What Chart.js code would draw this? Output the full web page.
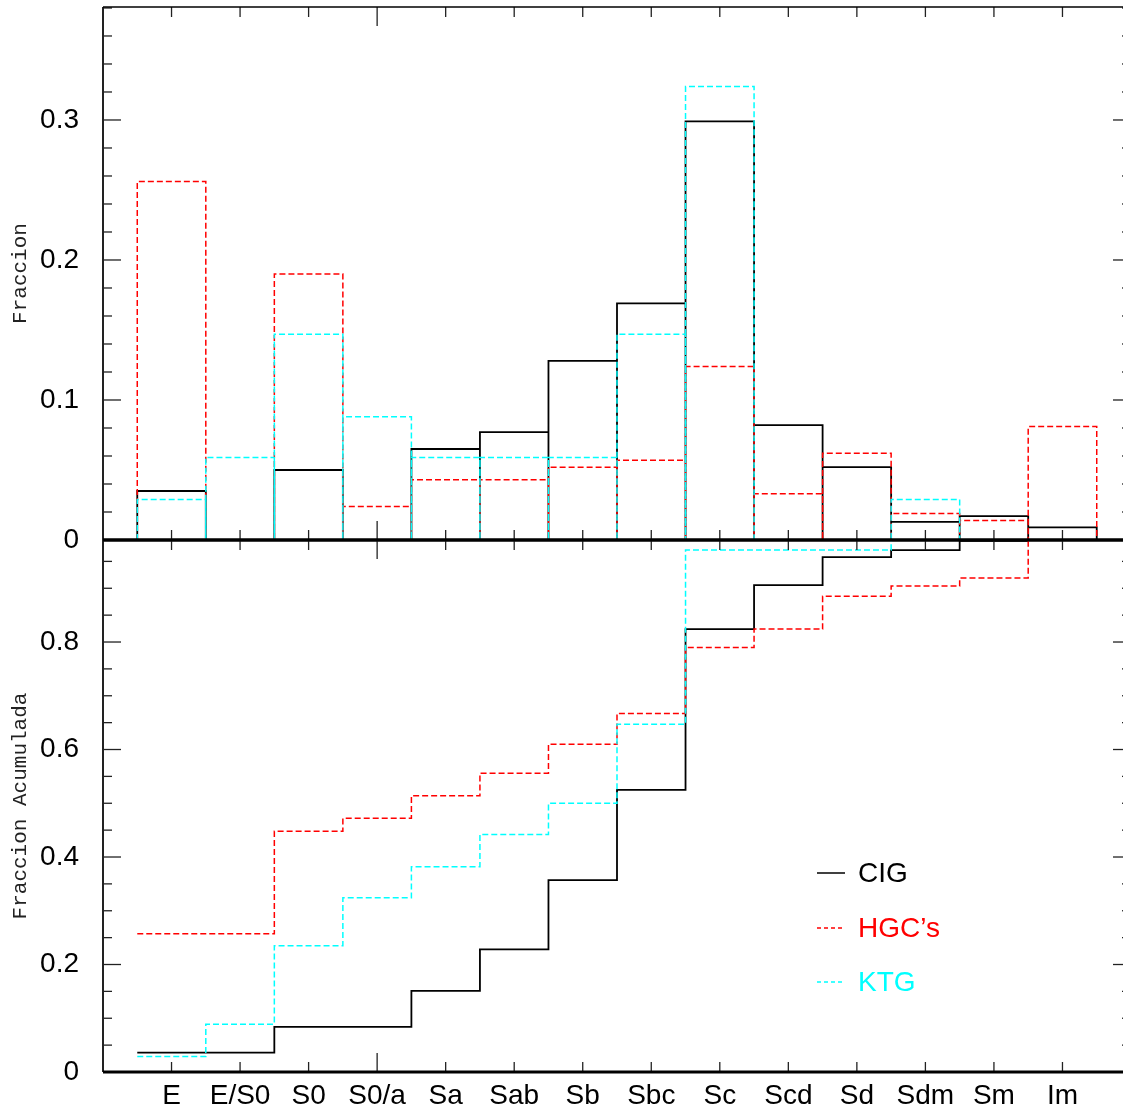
<!DOCTYPE html>
<html>
<head>
  <title>Fraccion por tipo morfologico</title>
  <script src="https://cdn.jsdelivr.net/npm/chart.js"></script>
  <style>
    html, body { margin: 0; padding: 0; background: #fff; overflow: hidden; }
    #wrap { position: relative; width: 1123px; height: 1111px; overflow: hidden; }
    #topChart { position: absolute; left: 0; top: 0; }
    #botChart { position: absolute; left: 0; top: 530px; }
    #legend { position: absolute; left: 817px; top: 846px; font-family: 'Liberation Sans', Arial, sans-serif; font-size: 28px; }
    .item { display: flex; align-items: center; height: 54.5px; }
    .item svg { margin-right: 13px; }
  </style>
</head>
<body>
  <div id="wrap">
    <canvas id="topChart" width="1140" height="560"></canvas>
    <canvas id="botChart" width="1140" height="581"></canvas>
    <div id="legend"></div>
  </div>
  <script>
    const categories = ['E', 'E/S0', 'S0', 'S0/a', 'Sa', 'Sab', 'Sb', 'Sbc', 'Sc', 'Scd', 'Sd', 'Sdm', 'Sm', 'Im'];

    // fraccion por tipo
    const fracCIG = [0.035, 0, 0.050, 0, 0.065, 0.077, 0.128, 0.169, 0.299, 0.082, 0.052, 0.013, 0.017, 0.009];
    const fracHGC = [0.256, 0, 0.190, 0.024, 0.043, 0.043, 0.052, 0.057, 0.124, 0.033, 0.062, 0.019, 0.014, 0.081];
    const fracKTG = [0.029, 0.059, 0.147, 0.088, 0.059, 0.059, 0.059, 0.147, 0.324, 0, 0, 0.029, 0, 0];

    // fraccion acumulada
    const cumCIG = [0.036, 0.036, 0.084, 0.084, 0.151, 0.228, 0.357, 0.525, 0.824, 0.906, 0.958, 0.971, 0.988, 1.0];
    const cumHGC = [0.257, 0.257, 0.448, 0.472, 0.514, 0.556, 0.610, 0.667, 0.790, 0.824, 0.885, 0.904, 0.919, 1.0];
    const cumKTG = [0.029, 0.089, 0.235, 0.324, 0.382, 0.442, 0.500, 0.647, 0.971, 0.971, 0.971, 1.0, 1.0, 1.0];

    const seriesNames = ['CIG', "HGC’s", 'KTG'];
    const seriesColors = ['#000000', '#ff0000', '#00ffff'];
    const seriesDash = [[], [6, 3], [6, 3]];
    const seriesWidth = [1.8, 1.5, 1.5];

    Chart.defaults.font.family = "'Liberation Sans', Arial, sans-serif";
    Chart.defaults.color = '#000';

    // cada bin como una caja abierta (estilo histograma)
    function boxes(vals) {
      const pts = [];
      vals.forEach((v, i) => {
        pts.push({x: i - 0.5, y: 0}, {x: i - 0.5, y: v}, {x: i + 0.5, y: v}, {x: i + 0.5, y: 0});
      });
      return pts;
    }
    function steps(vals) {
      const pts = vals.map((v, i) => ({x: i - 0.5, y: v}));
      pts.push({x: vals.length - 0.5, y: vals[vals.length - 1]});
      return pts;
    }

    function drawLine(ctx, x1, y1, x2, y2) {
      ctx.beginPath();
      ctx.moveTo(x1, y1);
      ctx.lineTo(x2, y2);
      ctx.stroke();
    }

    const framePlugin = {
      id: 'frame',
      afterDatasetsDraw(chart, args, opts) {
        const {ctx, chartArea: a} = chart;
        const x = chart.scales.x, y = chart.scales.y;
        ctx.save();
        ctx.strokeStyle = '#222';
        ctx.lineWidth = 1.3;
        categories.forEach((c, i) => {
          const px = x.getPixelForValue(i);
          const len = i === 3 ? 19 : 10;
          drawLine(ctx, px, a.top, px, a.top + len);
          drawLine(ctx, px, a.bottom, px, a.bottom - len);
        });
        const n = Math.floor(y.max / opts.minor + 1e-6);
        for (let k = 0; k <= n; k++) {
          const v = k * opts.minor;
          const r = v / opts.major;
          const len = Math.abs(r - Math.round(r)) < 1e-6 ? 18 : 9;
          const py = y.getPixelForValue(v);
          drawLine(ctx, a.left, py, a.left + len, py);
          drawLine(ctx, a.right, py, a.right - len, py);
        }
        ctx.lineWidth = 2;
        drawLine(ctx, a.left, a.top, a.left, a.bottom);
        drawLine(ctx, a.right, a.top, a.right, a.bottom);
        ctx.strokeStyle = '#000';
        ctx.lineWidth = opts.topWidth;
        drawLine(ctx, a.left, a.top, a.right, a.top);
        ctx.lineWidth = opts.bottomWidth;
        drawLine(ctx, a.left, a.bottom, a.right, a.bottom);
        ctx.restore();
      }
    };

    function makeDatasets(arrs, build) {
      return arrs.map((vals, s) => ({
        label: seriesNames[s],
        data: build(vals),
        borderColor: seriesColors[s],
        borderDash: seriesDash[s],
        borderWidth: seriesWidth[s],
        pointRadius: 0,
        tension: 0,
        fill: false,
        order: 3 - s,
        stepped: build === steps
      }));
    }

    function yAxis(max, step, title) {
      return {
        type: 'linear',
        min: 0,
        max: max,
        afterFit(scale) {
          scale.width = 103;
          scale.paddingTop = 0;
          scale.paddingBottom = 0;
        },
        grid: { display: false, drawTicks: false },
        border: { display: false },
        ticks: {
          stepSize: step,
          padding: 24,
          font: { size: 28 },
          color: '#000',
          callback(v) {
            const r = v / step;
            if (Math.abs(r - Math.round(r)) > 1e-6) return null;
            return v === 0 ? '0' : v.toFixed(1);
          }
        },
        title: {
          display: true,
          text: title,
          color: '#222',
          font: { family: "'Liberation Mono', 'DejaVu Sans Mono', monospace", size: 21 },
          padding: { top: 8, bottom: 0 }
        }
      };
    }

    function xAxis(show) {
      return {
        type: 'linear',
        min: -1,
        max: 14,
        display: show,
        afterFit(scale) {
          scale.height = show ? 39 : 0;
          scale.paddingLeft = 0;
          scale.paddingRight = 0;
        },
        grid: { display: false, drawTicks: false },
        border: { display: false },
        ticks: {
          stepSize: 1,
          autoSkip: false,
          maxRotation: 0,
          padding: 7,
          font: { size: 28 },
          color: '#000',
          callback(v) { return categories[v] !== undefined ? categories[v] : ''; }
        }
      };
    }

    new Chart(document.getElementById('topChart'), {
      type: 'line',
      data: { datasets: makeDatasets([fracCIG, fracHGC, fracKTG], boxes) },
      options: {
        responsive: false,
        animation: false,
        layout: { padding: { top: 7, bottom: 20, left: 0, right: 9 } },
        plugins: {
          legend: { display: false },
          tooltip: { enabled: false },
          frame: { minor: 0.02, major: 0.1, topWidth: 1.5, bottomWidth: 3 }
        },
        scales: {
          x: xAxis(false),
          y: yAxis(0.3807, 0.1, 'Fraccion')
        }
      },
      plugins: [framePlugin]
    });

    new Chart(document.getElementById('botChart'), {
      type: 'line',
      data: { datasets: makeDatasets([cumCIG, cumHGC, cumKTG], steps) },
      options: {
        responsive: false,
        animation: false,
        layout: { padding: { top: 10, bottom: 0, left: 0, right: 9 } },
        plugins: {
          legend: { display: false },
          tooltip: { enabled: false },
          frame: { minor: 0.05, major: 0.2, topWidth: 3, bottomWidth: 3 }
        },
        scales: {
          x: xAxis(true),
          y: yAxis(0.9898, 0.2, 'Fraccion Acumulada')
        }
      },
      plugins: [framePlugin]
    });

    // leyenda
    const legend = document.getElementById('legend');
    const svgNS = 'http://www.w3.org/2000/svg';
    seriesNames.forEach((name, s) => {
      const item = document.createElement('div');
      item.className = 'item';
      const sw = document.createElementNS(svgNS, 'svg');
      sw.setAttribute('width', '28');
      sw.setAttribute('height', '4');
      const ln = document.createElementNS(svgNS, 'line');
      ln.setAttribute('x1', '0'); ln.setAttribute('y1', '2');
      ln.setAttribute('x2', '28'); ln.setAttribute('y2', '2');
      ln.setAttribute('stroke', seriesColors[s]);
      ln.setAttribute('stroke-width', '1.5');
      if (seriesDash[s].length) ln.setAttribute('stroke-dasharray', '4 3');
      sw.appendChild(ln);
      const txt = document.createElement('span');
      txt.textContent = name;
      txt.style.color = seriesColors[s];
      item.appendChild(sw);
      item.appendChild(txt);
      legend.appendChild(item);
    });
  </script>
</body>
</html>
